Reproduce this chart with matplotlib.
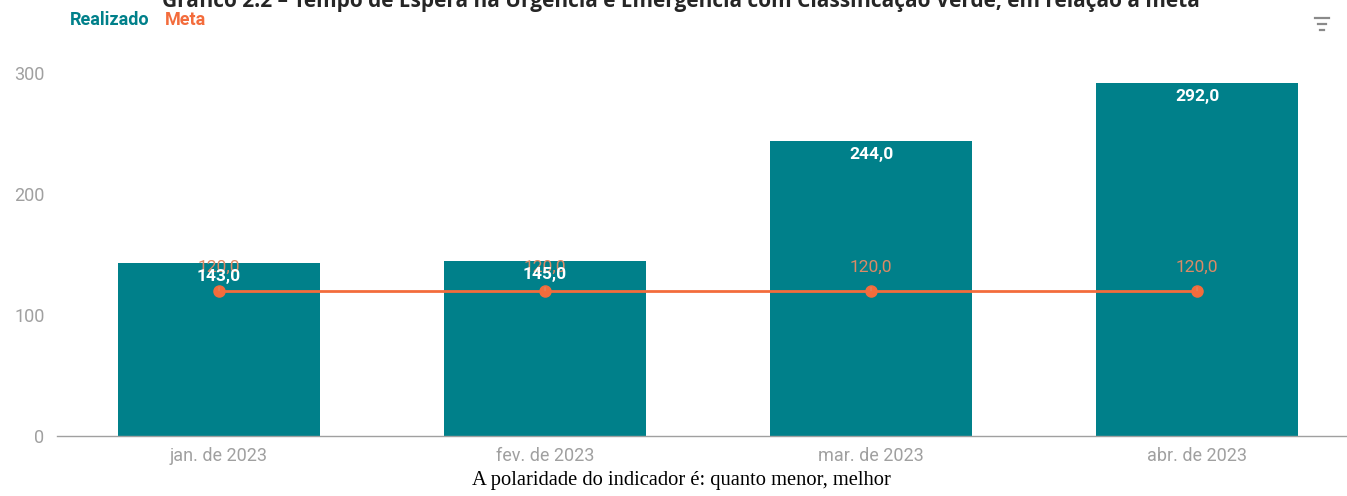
import numpy as np
import matplotlib
matplotlib.use('Agg')
from matplotlib import pyplot as plt
from matplotlib.lines import Line2D

meses = ['jan. de 2023', 'fev. de 2023', 'mar. de 2023', 'abr. de 2023']
realizado = [143.0, 145.0, 244.0, 292.0]
meta = [120.0, 120.0, 120.0, 120.0]
yticks = [0, 100, 200, 300]

teal = '#00808A'
laranja = '#F36C3C'
cinza = '#A0A0A0'

W, H = 1347, 496
fig = plt.figure(figsize=(W / 100, H / 100), dpi=100)
ax = fig.add_axes([57 / W, (H - 436) / H, (W - 57) / W, (436 - 73) / H])

x = np.arange(len(meses))
ax.bar(x, realizado, width=0.617, color=teal, zorder=2)
ax.plot(x, meta, color=laranja, lw=2, marker='o', ms=8, zorder=3)

for i in range(len(x)):
    ax.annotate(f'{realizado[i]:.1f}'.replace('.', ','), (x[i], realizado[i]),
                xytext=(0, -10), textcoords='offset points', ha='center', va='center',
                color='white', fontsize=12.5, fontweight='bold', family='Roboto', zorder=5)
    ax.annotate(f'{meta[i]:.1f}'.replace('.', ','), (x[i], meta[i]),
                xytext=(0, 17), textcoords='offset points', ha='center', va='center',
                color='#DC8A66', fontsize=12.5, family='Roboto', zorder=4,
                arrowprops=dict(arrowstyle='-', color='#DC8A66', lw=0.8, shrinkA=7, shrinkB=4))

ax.set_xlim(-0.497, 3.46)
ax.set_ylim(0, 300)
ax.set_xticks(x)
ax.set_xticklabels(meses, family='Roboto', fontsize=13, color=cinza)
ax.set_yticks(yticks)
ax.set_yticklabels([str(v) for v in yticks], family='Roboto', fontsize=13, color=cinza)
ax.tick_params(axis='both', length=0)
ax.tick_params(axis='x', pad=8)
ax.tick_params(axis='y', pad=9)
for s in ['top', 'right', 'left']:
    ax.spines[s].set_visible(False)
ax.spines['bottom'].set_color(cinza)
ax.spines['bottom'].set_linewidth(1)

# titulo cortado no topo, como no original
fig.text(681 / W, 1 - 1 / H, 'Gráfico 2.2 – Tempo de Espera na Urgência e Emergência com Classificação Verde, em relação à meta',
         ha='center', va='center', fontsize=15, fontweight='bold', family='Open Sans', color='#262626')

# legenda
fig.text(70 / W, 1 - 20 / H, 'Realizado', ha='left', va='center', fontsize=13, fontweight='bold',
         family='Roboto', color=teal)
fig.text(165 / W, 1 - 20 / H, 'Meta', ha='left', va='center', fontsize=13, fontweight='bold',
         family='Roboto', color=laranja)

# icone de filtro
for yy, x0, x1 in [(18, 1315, 1329), (24, 1318, 1326), (30, 1320, 1324)]:
    fig.add_artist(Line2D([x0 / W, x1 / W], [1 - yy / H, 1 - yy / H], color='#8a8a8a', lw=1.6))

fig.text(681 / W, 1 - 481 / H, 'A polaridade do indicador é: quanto menor, melhor',
         ha='center', va='center', fontsize=14.8, family='Liberation Serif', color='black')

fig.savefig('out.png', dpi=100)
